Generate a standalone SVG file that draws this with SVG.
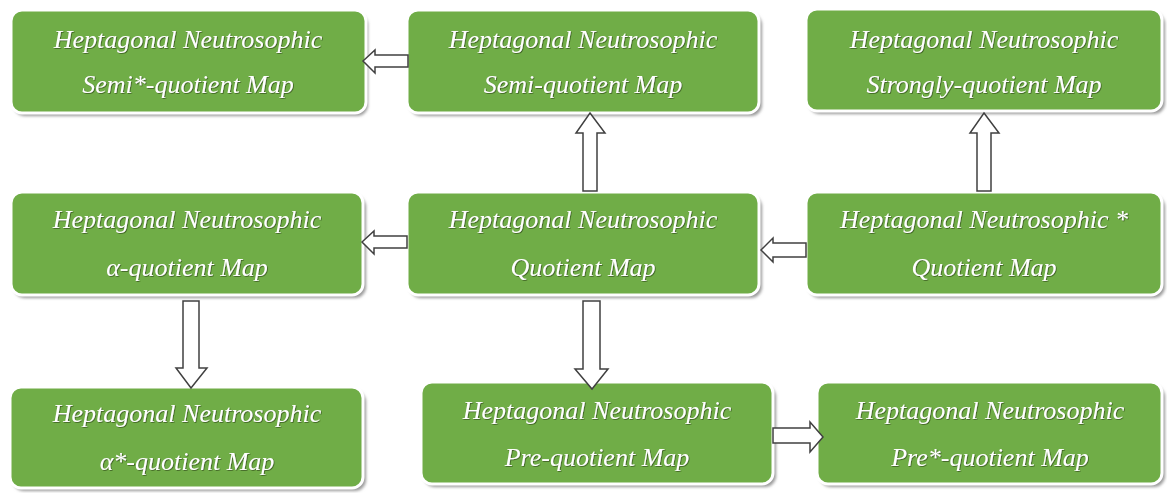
<svg xmlns="http://www.w3.org/2000/svg" width="1167" height="493" viewBox="0 0 1167 493">
<defs>
<style>
.box{fill:#70ad47;stroke:#ffffff;stroke-width:3}
.sh{fill:#9a9a9a;filter:url(#blur)}
.t{font-family:"Liberation Serif","Times New Roman",serif;font-style:italic;font-size:26px;fill:#ffffff;text-anchor:middle;filter:url(#ts)}
.arr{fill:#ffffff;stroke:#404040;stroke-width:1.5;stroke-linejoin:miter}
</style>
<filter id="blur" x="-10%" y="-10%" width="120%" height="130%"><feGaussianBlur stdDeviation="1.5"/></filter>
<filter id="ts" x="-5%" y="-20%" width="110%" height="140%"><feDropShadow dx="0.8" dy="0.8" stdDeviation="0.4" flood-color="#2d4a1c" flood-opacity="0.8"/></filter>
</defs>
<rect width="1167" height="493" fill="#ffffff"/>

<g id="n-semistar">
<rect class="sh" x="14" y="14" width="354" height="102" rx="11"/>
<rect class="box" x="11" y="10" width="355" height="103" rx="11"/>
<text class="t" x="188" y="48">Heptagonal Neutrosophic</text>
<text class="t" x="188" y="93">Semi*-quotient Map</text>
</g>
<g id="n-semi">
<rect class="sh" x="410" y="14" width="352" height="102" rx="11"/>
<rect class="box" x="407" y="10" width="352" height="103" rx="11"/>
<text class="t" x="583" y="48">Heptagonal Neutrosophic</text>
<text class="t" x="583" y="93">Semi-quotient Map</text>
</g>
<g id="n-strongly">
<rect class="sh" x="809" y="13" width="356" height="101" rx="11"/>
<rect class="box" x="806" y="9" width="356" height="102" rx="11"/>
<text class="t" x="984" y="48">Heptagonal Neutrosophic</text>
<text class="t" x="984" y="93">Strongly-quotient Map</text>
</g>
<g id="n-alpha">
<rect class="sh" x="14" y="196" width="352" height="102" rx="11"/>
<rect class="box" x="11" y="192" width="352" height="103" rx="11"/>
<text class="t" x="187" y="228">Heptagonal Neutrosophic</text>
<text class="t" x="187" y="276">α-quotient Map</text>
</g>
<g id="n-quotient">
<rect class="sh" x="410" y="196" width="352" height="102" rx="11"/>
<rect class="box" x="407" y="192" width="352" height="103" rx="11"/>
<text class="t" x="583" y="228">Heptagonal Neutrosophic</text>
<text class="t" x="583" y="276">Quotient Map</text>
</g>
<g id="n-starquotient">
<rect class="sh" x="809" y="196" width="356" height="102" rx="11"/>
<rect class="box" x="806" y="192" width="356" height="103" rx="11"/>
<text class="t" x="984" y="228">Heptagonal Neutrosophic *</text>
<text class="t" x="984" y="276">Quotient Map</text>
</g>
<g id="n-alphastar">
<rect class="sh" x="13" y="391" width="353" height="100" rx="11"/>
<rect class="box" x="10" y="387" width="353" height="101" rx="11"/>
<text class="t" x="187" y="422">Heptagonal Neutrosophic</text>
<text class="t" x="187" y="470">α*-quotient Map</text>
</g>
<g id="n-pre">
<rect class="sh" x="424" y="386" width="352" height="101" rx="11"/>
<rect class="box" x="421" y="382" width="352" height="102" rx="11"/>
<text class="t" x="597" y="419">Heptagonal Neutrosophic</text>
<text class="t" x="597" y="466">Pre-quotient Map</text>
</g>
<g id="n-prestar">
<rect class="sh" x="820" y="386" width="345" height="101" rx="11"/>
<rect class="box" x="817" y="382" width="345" height="102" rx="11"/>
<text class="t" x="990" y="419">Heptagonal Neutrosophic</text>
<text class="t" x="990" y="466">Pre*-quotient Map</text>
</g>

<g id="connectors">
<path class="arr" d="M363,61 L375,50 L375,55 L408,55 L408,67 L375,67 L375,73 Z"/>
<path class="arr" d="M590,113 L605,133 L597,133 L597,191 L583,191 L583,133 L576,133 Z"/>
<path class="arr" d="M984,113 L999,133 L991,133 L991,191 L977,191 L977,133 L970,133 Z"/>
<path class="arr" d="M362,242 L374,231 L374,236 L407,236 L407,248 L374,248 L374,254 Z"/>
<path class="arr" d="M761,250 L773,238 L773,243 L806,243 L806,257 L773,257 L773,262 Z"/>
<path class="arr" d="M583,301 L600,301 L600,369 L608,369 L592,389 L575,369 L583,369 Z"/>
<path class="arr" d="M183,301 L199,301 L199,368 L207,368 L191,388 L176,368 L183,368 Z"/>
<path class="arr" d="M773,428 L810,428 L810,422 L823,437 L810,452 L810,443 L773,443 Z"/>
</g>
</svg>
